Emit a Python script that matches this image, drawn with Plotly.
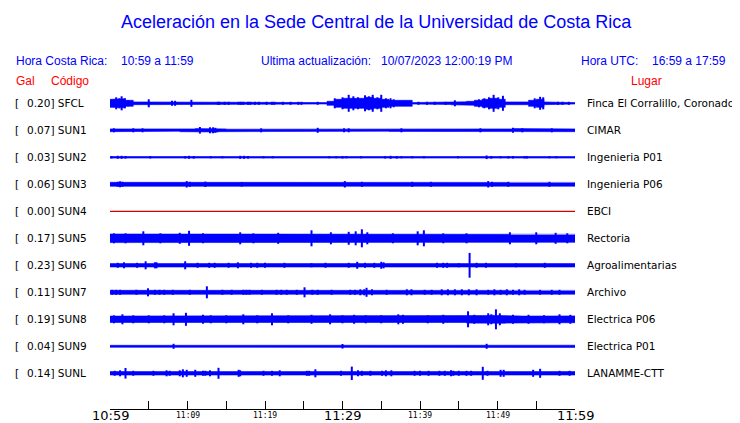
import plotly.graph_objects as go

# ---------------- data ----------------
STATIONS = ["SFCL", "SUN1", "SUN2", "SUN3", "SUN4", "SUN5", "SUN6", "SUN7", "SUN8", "SUN9", "SUNL"]
PEAK_GAL = ["0.20", "0.07", "0.03", "0.06", "0.00", "0.17", "0.23", "0.11", "0.19", "0.04", "0.14"]
PLACES = ["Finca El Corralillo, Coronado", "CIMAR", "Ingenieria P01", "Ingenieria P06", "EBCI",
          "Rectoria", "Agroalimentarias", "Archivo", "Electrica P06", "Electrica P01", "LANAMME-CTT"]

# minutes elapsed since 10:59 (local time)
MINUTE_EDGES = [0, 1, 2, 3, 4, 5, 6, 7, 8, 9, 10, 11, 12, 13, 14, 15, 16, 17, 18, 19, 20,
                21, 22, 23, 24, 25, 26, 27, 28, 29, 30, 31, 32, 33, 34, 35, 36, 37, 38, 39, 40,
                41, 42, 43, 44, 45, 46, 47, 48, 49, 50, 51, 52, 53, 54, 55, 56, 57, 58, 59, 60]
TICK_MARKS = [0, 5, 10, 15, 20, 25, 30, 35, 40, 45, 50, 55, 60]
TICK_MINUTES = [0, 10, 20, 30, 40, 50, 60]
TICK_LABELS = ["10:59", "11:09", "11:19", "11:29", "11:39", "11:49", "11:59"]
MAJOR_LABELS = ["10:59", "11:29", "11:59"]

# per-minute half-amplitude envelope of each trace (display amplitude units)
sfcl_env = [4.0, 4.5, 3.0, 1.4, 1.4, 1.4, 1.4, 1.4, 1.4, 1.4, 1.4, 1.4, 1.4, 0.7, 0.7, 0.7, 0.7, 0.7, 0.7, 0.7,
            0.7, 0.7, 0.7, 0.7, 0.7, 0.7, 0.7, 0.7, 2.0, 4.0, 5.0, 5.0, 5.0, 6.0, 5.0, 4.0, 3.0, 3.0, 3.0, 0.8,
            0.8, 0.8, 0.8, 1.2, 1.5, 1.5, 2.0, 3.0, 4.0, 5.0, 4.0, 1.4, 1.4, 1.4, 3.0, 4.0, 1.4, 0.7, 0.7, 0.7]
sun1_env = [1.4, 1.4, 1.1, 1.4, 1.4, 1.1, 1.1, 1.1, 0.9, 1.4, 1.4, 1.7, 1.9, 1.7, 1.4, 1.1, 1.1, 1.1, 1.1, 1.4,
            1.4, 1.1, 1.1, 1.1, 1.1, 1.4, 1.4, 1.1, 1.1, 1.4, 1.1, 0.9, 0.9, 1.1, 1.1, 0.9, 1.1, 1.1, 1.1, 1.4,
            1.1, 1.1, 1.1, 1.4, 1.4, 1.4, 1.4, 1.1, 1.4, 1.4, 1.4, 1.4, 1.7, 1.4, 1.1, 1.4, 1.1, 1.1, 1.4, 1.4]
sun2_env = [0.8, 0.8, 0.8, 0.8, 0.8, 0.8, 0.8, 0.8, 0.8, 0.8, 0.8, 0.8, 0.8, 0.8, 0.8, 0.8, 0.8, 0.8, 0.8, 0.8,
            0.8, 0.8, 0.8, 0.8, 0.8, 0.8, 0.8, 0.8, 0.8, 0.8, 0.8, 0.8, 0.8, 0.8, 0.8, 0.8, 0.8, 0.8, 0.8, 0.8,
            0.8, 0.8, 0.8, 0.8, 0.8, 0.8, 0.8, 0.8, 0.8, 0.8, 0.8, 0.8, 0.8, 0.8, 0.8, 0.8, 0.8, 0.8, 0.8, 0.8]
sun3_env = [2.0, 2.1, 2.0, 1.9, 1.9, 1.9, 2.0, 1.9, 1.9, 2.0, 2.1, 1.9, 1.9, 1.9, 1.9, 1.9, 1.9, 2.0, 1.9, 1.9,
            1.9, 1.9, 1.9, 1.9, 1.9, 1.9, 1.9, 1.9, 1.9, 1.9, 2.0, 1.9, 1.9, 1.9, 1.9, 1.9, 1.9, 1.9, 1.9, 1.9,
            1.9, 1.9, 1.9, 1.9, 1.9, 1.9, 1.9, 1.9, 2.0, 1.9, 1.9, 2.0, 1.9, 1.9, 1.9, 1.9, 2.0, 1.9, 1.9, 1.9]
sun4_env = [0, 0, 0, 0, 0, 0, 0, 0, 0, 0, 0, 0, 0, 0, 0, 0, 0, 0, 0, 0,
            0, 0, 0, 0, 0, 0, 0, 0, 0, 0, 0, 0, 0, 0, 0, 0, 0, 0, 0, 0,
            0, 0, 0, 0, 0, 0, 0, 0, 0, 0, 0, 0, 0, 0, 0, 0, 0, 0, 0, 0]
sun5_env = [4.3, 4.3, 4.5, 4.3, 4.3, 4.0, 4.3, 4.3, 4.4, 4.3, 4.3, 4.3, 4.0, 4.3, 4.3, 4.4, 4.3, 4.3, 4.0, 4.3,
            4.3, 4.3, 4.3, 4.4, 4.3, 4.5, 4.3, 4.3, 4.3, 4.4, 4.5, 4.7, 4.7, 4.5, 4.3, 4.3, 4.3, 4.0, 4.3, 4.3,
            4.4, 4.3, 4.0, 4.3, 4.3, 4.0, 4.3, 4.3, 4.3, 4.0, 4.3, 4.4, 4.3, 4.3, 4.3, 4.3, 4.4, 4.3, 4.3, 4.0]
sun6_env = [1.7, 1.7, 1.7, 1.7, 1.7, 1.7, 1.7, 1.7, 1.7, 1.7, 1.7, 1.7, 1.7, 1.7, 1.7, 1.7, 1.7, 1.7, 1.7, 1.7,
            1.7, 1.7, 1.7, 1.7, 1.7, 1.7, 1.7, 1.7, 1.7, 1.7, 1.7, 1.7, 1.7, 1.7, 1.7, 1.7, 1.7, 1.7, 1.7, 1.7,
            1.7, 1.7, 1.7, 1.7, 1.7, 1.7, 1.7, 1.7, 1.7, 1.7, 1.7, 1.7, 1.7, 1.7, 1.7, 1.7, 1.7, 1.7, 1.7, 1.7]
sun7_env = [2.0, 2.0, 1.9, 1.9, 1.9, 1.9, 2.0, 1.9, 1.9, 1.9, 1.9, 1.9, 1.9, 1.9, 1.9, 1.9, 1.9, 2.0, 1.9, 1.9,
            1.9, 2.0, 2.0, 1.9, 1.9, 1.9, 2.0, 1.9, 1.9, 1.9, 1.9, 2.0, 2.2, 2.2, 1.9, 1.9, 1.9, 1.9, 2.0, 1.9,
            2.0, 1.9, 2.0, 2.0, 2.0, 2.0, 2.0, 2.0, 2.0, 2.2, 2.2, 2.2, 2.0, 2.0, 1.9, 1.9, 1.9, 1.9, 1.9, 1.9]
sun8_env = [3.2, 3.2, 3.4, 3.2, 3.2, 3.2, 3.2, 3.2, 3.4, 3.4, 3.2, 3.2, 3.2, 3.2, 3.2, 3.2, 3.2, 3.4, 3.2, 3.2,
            3.4, 3.2, 3.2, 3.2, 3.2, 3.2, 3.2, 3.2, 3.2, 3.2, 3.2, 3.2, 3.2, 3.2, 3.2, 3.2, 3.2, 3.4, 3.2, 3.2,
            3.2, 3.2, 3.2, 3.2, 3.2, 3.2, 3.8, 3.8, 3.8, 4.0, 4.0, 3.8, 3.4, 3.2, 3.2, 3.2, 3.2, 3.2, 3.4, 3.4]
sun9_env = [1.0, 1.1, 1.0, 0.9, 1.0, 1.0, 0.9, 0.8, 0.8, 1.0, 1.1, 1.1, 1.1, 1.0, 1.2, 1.2, 1.1, 1.0, 1.0, 1.1,
            1.1, 1.0, 1.0, 1.1, 1.1, 1.0, 1.1, 1.1, 1.0, 1.1, 1.0, 1.0, 1.0, 1.1, 1.2, 1.2, 1.1, 1.1, 1.0, 1.1,
            1.1, 1.1, 1.0, 1.1, 1.1, 1.1, 1.1, 1.1, 1.2, 1.2, 1.1, 1.1, 1.1, 1.0, 1.1, 1.1, 1.1, 1.1, 1.1, 1.1]
sunl_env = [1.7, 1.7, 1.7, 1.7, 1.7, 1.7, 1.7, 1.7, 1.7, 1.7, 1.7, 1.7, 1.7, 1.7, 1.7, 1.7, 1.7, 1.7, 1.7, 1.7,
            1.7, 1.7, 1.7, 1.7, 1.7, 1.7, 1.7, 1.7, 1.7, 1.7, 1.7, 1.7, 1.7, 1.7, 1.7, 1.7, 1.7, 1.7, 1.7, 1.7,
            1.7, 1.7, 1.7, 1.7, 1.7, 1.7, 1.7, 1.7, 1.7, 1.7, 1.7, 1.7, 1.7, 1.7, 1.7, 1.7, 1.7, 1.7, 1.7, 1.7]

# short bursts / peaks: (minute, half-amplitude)
sfcl_peaks = [(0.3, 3), (0.8, 6), (1.2, 5), (1.5, 7), (1.9, 5), (2.3, 3), (5.0, 4), (8.0, 2.5), (8.4, 2.5),
              (10.5, 3.5), (13.9, 1.5), (14.1, 1.5), (14.8, 1.5), (15.3, 1.5), (16.6, 1.5), (16.9, 1.5),
              (17.2, 1.5), (17.8, 1.5), (18.1, 1.5), (18.7, 1.5), (19.2, 1.5), (20.2, 1.5), (20.9, 1.5),
              (21.2, 1.5), (22.3, 1.5), (23.3, 1.5), (24.3, 1.5), (24.7, 1.5), (26.8, 1.5), (29.0, 5),
              (30.0, 6), (30.8, 8.5), (31.4, 7), (32.0, 6), (32.9, 8), (33.4, 7), (33.9, 8.5), (34.5, 6),
              (35.0, 8.5), (35.6, 5), (36.2, 5), (36.6, 4), (39.8, 1.5), (40.9, 1.5), (41.9, 1.5), (43.3, 1.5),
              (44.5, 3), (47.6, 4), (48.3, 5), (48.9, 6), (49.5, 8.5), (50.1, 6), (50.7, 7.5), (54.8, 5),
              (55.5, 6.5), (55.9, 6), (57.8, 1.5), (58.4, 1.5), (59.2, 1.5)]
sun1_peaks = [(0.5, 2), (3.0, 2), (4.2, 2), (11.6, 3.3), (12.9, 3), (13.3, 3), (13.6, 2.5), (19.5, 2),
              (26.8, 2.5), (30.2, 2), (30.8, 2), (37.6, 2), (47.8, 2), (52.0, 2.5), (53.2, 2), (57.0, 2)]
sun2_peaks = [(0.2, 1.2), (1.0, 1.5), (1.5, 1.5), (2.0, 1.3), (5.2, 1.2), (9.7, 1.2), (10.2, 1.5), (10.8, 1.3),
              (13.0, 1), (14.5, 1), (16.8, 1.5), (17.3, 1.5), (17.8, 1.3), (19.8, 1), (21.0, 1), (28.3, 1),
              (29.2, 1), (30.0, 1.2), (30.5, 1), (32.4, 1), (35.5, 1.2), (36.2, 1.5), (37.0, 1.3), (37.6, 1),
              (39.0, 1), (40.5, 1), (44.9, 1), (48.6, 1.8), (49.2, 1.3), (50.4, 1), (51.4, 1.2), (52.0, 1.3),
              (53.5, 1.2), (53.8, 1.2), (56.7, 1), (57.6, 1)]
sun3_peaks = [(1.0, 2.5), (1.3, 3), (1.6, 2.5), (9.9, 3.2), (10.3, 2.5), (12.3, 2.7), (17.0, 2.3), (30.3, 3.2),
              (32.5, 2.5), (39.0, 2.5), (41.4, 2.5), (48.8, 3.2), (49.3, 2.5), (51.4, 2.5), (56.7, 2.5)]
sun4_peaks = []
sun5_peaks = [(0.5, 5), (2.0, 5), (4.3, 7), (6.5, 5), (9.0, 5.5), (10.2, 7.5), (12.0, 5), (16.8, 6), (18.5, 5),
              (21.7, 5.5), (26.0, 8), (28.5, 6), (30.8, 6.5), (31.7, 7), (32.5, 9), (33.2, 6), (36.5, 5),
              (39.7, 7), (40.5, 8), (43.0, 5), (46.0, 5), (51.6, 6), (55.0, 6), (57.5, 5.5), (59.0, 5)]
sun6_peaks = [(1.0, 2.5), (1.8, 3), (3.5, 2.5), (4.6, 4), (5.8, 3), (6.0, 3), (9.7, 4), (11.3, 2.5), (12.8, 2.5),
              (13.5, 2.5), (15.3, 2.5), (16.5, 3), (18.2, 2.5), (19.0, 2.5), (20.0, 2.5), (22.5, 2.5), (26.0, 2),
              (27.8, 2.5), (30.8, 2.5), (31.9, 3.5), (32.9, 2.5), (34.1, 2.5), (35.0, 3.5), (35.3, 3),
              (42.2, 2.5), (43.0, 2.5), (43.5, 2.5), (45.0, 2), (46.4, 12.4), (47.3, 2.5), (48.5, 2.5),
              (52.4, 2), (56.1, 2.5)]
sun7_peaks = [(0.3, 2.5), (0.8, 2.5), (1.3, 2.5), (3.4, 2.5), (4.9, 4), (5.8, 2.5), (6.4, 2.5), (7.0, 2.5),
              (8.1, 2.5), (10.3, 2.5), (12.5, 6), (14.5, 2.5), (15.7, 2.5), (17.2, 2.5), (17.6, 2.5), (18.0, 2.5),
              (19.6, 2.5), (21.5, 2.5), (22.1, 2.5), (22.8, 2.5), (24.1, 2.5), (25.1, 5), (26.1, 2.5),
              (26.8, 2.5), (28.6, 2.5), (31.0, 2.5), (31.6, 2.5), (32.3, 3), (32.8, 3), (33.1, 4.5), (33.8, 3),
              (35.7, 2.5), (38.3, 3), (38.9, 3), (40.6, 2.5), (41.5, 2.5), (42.8, 3), (43.6, 3), (44.5, 3),
              (45.4, 3), (46.3, 3), (47.3, 3), (48.8, 2.5), (49.6, 3), (50.4, 2.5), (51.2, 3), (52.0, 2.5),
              (52.8, 3), (53.5, 2.5), (55.5, 2.5), (57.0, 2.5), (58.0, 2.5)]
sun8_peaks = [(0.5, 4), (1.6, 5), (3.0, 4), (5.0, 4), (7.0, 4), (8.2, 6), (9.8, 6.5), (12.0, 4.5), (13.0, 4),
              (15.0, 4), (17.2, 5), (19.0, 4), (20.9, 6), (23.0, 4), (26.0, 4.5), (28.4, 5), (30.0, 4),
              (31.5, 4.5), (33.0, 4), (35.0, 4), (37.2, 5), (37.8, 4.5), (41.0, 4), (43.0, 4.5), (46.2, 8),
              (47.0, 4.5), (48.8, 6), (49.2, 5), (49.8, 10), (50.3, 6), (52.0, 4.5), (54.0, 4.5), (56.0, 4),
              (58.0, 5), (59.4, 4.5)]
sun9_peaks = [(8.2, 2.5), (30.0, 2.3), (48.6, 2.5)]
sunl_peaks = [(0.6, 2.5), (1.3, 3), (2.0, 5.3), (3.0, 2.5), (5.6, 2.5), (7.3, 3), (7.7, 2.5), (9.0, 3), (9.4, 4),
              (9.9, 3.5), (11.0, 3.5), (12.0, 2.5), (12.3, 2.5), (12.9, 3), (14.0, 5.5), (16.6, 3.5), (16.8, 3),
              (19.8, 2.5), (20.9, 2.5), (21.9, 3), (25.4, 2.5), (25.7, 2.5), (26.5, 4), (29.8, 2.5), (31.2, 6.7),
              (32.0, 3), (32.5, 2.5), (33.6, 2.5), (35.1, 2.5), (35.6, 3), (36.3, 3), (39.3, 2.5), (40.0, 2.5),
              (41.1, 2.5), (42.5, 2.5), (43.2, 2.5), (44.0, 3), (44.3, 2.5), (45.0, 2.5), (46.0, 2.5),
              (46.6, 2.5), (48.1, 6.5), (48.7, 2.5), (50.4, 3.5), (50.8, 3.5), (54.6, 3.5), (55.5, 4.5),
              (58.0, 2.5), (59.3, 2.5)]

ENVELOPES = [sfcl_env, sun1_env, sun2_env, sun3_env, sun4_env, sun5_env, sun6_env, sun7_env,
             sun8_env, sun9_env, sunl_env]
PEAKS = [sfcl_peaks, sun1_peaks, sun2_peaks, sun3_peaks, sun4_peaks, sun5_peaks, sun6_peaks, sun7_peaks,
         sun8_peaks, sun9_peaks, sunl_peaks]

# ---------------- layout constants ----------------
PAGE_MARGIN = 8                            # default body margin of the html page
W, H = 740 - PAGE_MARGIN, 423 - PAGE_MARGIN
# plot area, in window pixels
PL, PR, PT, PB = 110, 575, 88, 409
ROW_GAP = 27.0                             # vertical spacing between traces (y units)
FIRST_ROW_OFFSET = 15.3                    # y units from plot top to first trace
BLUE = "#0000ff"
RED = "#ff0000"


def px_x(px):
    return (px - PL) / (PR - PL)


def px_y(py):
    return (PB - py) / (PB - PT)


fig = go.Figure()

for i, (name, env, peaks) in enumerate(zip(STATIONS, ENVELOPES, PEAKS)):
    c = -ROW_GAP * i
    if max(env) == 0 and not peaks:
        fig.add_trace(go.Scatter(x=[MINUTE_EDGES[0], MINUTE_EDGES[-1]], y=[c, c], mode="lines",
                                 line=dict(color="#d40000", width=1.2), hoverinfo="skip", showlegend=False))
        continue
    xs, ys = [], []
    for k, a in enumerate(env):
        xs += [MINUTE_EDGES[k], MINUTE_EDGES[k + 1]]
        ys += [c + a, c + a]
    for k in range(len(env) - 1, -1, -1):
        xs += [MINUTE_EDGES[k + 1], MINUTE_EDGES[k]]
        ys += [c - env[k], c - env[k]]
    fig.add_trace(go.Scatter(x=xs, y=ys, mode="lines", fill="toself", fillcolor=BLUE,
                             line=dict(color=BLUE, width=0.6), hoverinfo="skip", showlegend=False))
    if peaks:
        px_, py_ = [], []
        for t, a in peaks:
            px_ += [t, t, None]
            py_ += [c - a, c + a, None]
        fig.add_trace(go.Scatter(x=px_, y=py_, mode="lines", line=dict(color=BLUE, width=2),
                                 hoverinfo="skip", showlegend=False, connectgaps=False))

ann = []
ann.append(dict(text="Aceleración en la Sede Central de la Universidad de Costa Rica",
                x=px_x(376), y=px_y(22), xanchor="center", yanchor="middle",
                font=dict(family="Liberation Sans, Arial", size=18, color=BLUE)))
for txt, xpx in [("Hora Costa Rica:", 14), ("10:59 a 11:59", 119), ("Ultima actualización:", 259),
                 ("10/07/2023 12:00:19 PM", 379), ("Hora UTC:", 579), ("16:59 a 17:59", 650)]:
    ann.append(dict(text=txt, x=px_x(xpx), y=px_y(61), xanchor="left", yanchor="middle",
                    font=dict(family="Liberation Sans, Arial", size=12, color=BLUE)))
for txt, xpx in [("Gal", 14), ("Código", 49), ("Lugar", 629)]:
    ann.append(dict(text=txt, x=px_x(xpx), y=px_y(81), xanchor="left", yanchor="middle",
                    font=dict(family="Liberation Sans, Arial", size=12, color=RED)))

for i, (name, gal, place) in enumerate(zip(STATIONS, PEAK_GAL, PLACES)):
    c = -ROW_GAP * i
    lf = dict(family="DejaVu Sans", size=10.5, color="#000000")
    ann.append(dict(text="[", x=px_x(13), y=c, yref="y", xanchor="left", yanchor="middle", font=lf))
    ann.append(dict(text=f"{gal}] {name}", x=px_x(25), y=c, yref="y", xanchor="left",
                    yanchor="middle", font=lf))
    ann.append(dict(text=place, x=px_x(585), y=c, yref="y", xanchor="left", yanchor="middle", font=lf))

for m, lab in zip(TICK_MINUTES, TICK_LABELS):
    if lab in MAJOR_LABELS:
        f = dict(family="DejaVu Sans", size=13, color="#000000")
        yy = px_y(416)
    else:
        f = dict(family="DejaVu Sans Mono", size=8, color="#000000")
        yy = px_y(415)
    ann.append(dict(text=lab, x=m, xref="x", y=yy, yref="paper", xanchor="center", yanchor="middle", font=f))

for a in ann:
    a.setdefault("xref", "paper")
    a.setdefault("yref", "paper")
    a["showarrow"] = False

fig.update_layout(
    width=W, height=H, autosize=False,
    margin=dict(l=PL - PAGE_MARGIN, r=740 - PR, t=PT - PAGE_MARGIN, b=423 - PB, pad=0),
    paper_bgcolor="white", plot_bgcolor="white",
    annotations=ann,
    xaxis=dict(range=[MINUTE_EDGES[0], MINUTE_EDGES[-1]], showgrid=False, zeroline=False,
               showline=True, linecolor="#000000", linewidth=1,
               ticks="inside", ticklen=8, tickwidth=1, tickcolor="#000000",
               tickmode="array", tickvals=TICK_MARKS, showticklabels=False, fixedrange=True),
    yaxis=dict(range=[-(PB - PT) + FIRST_ROW_OFFSET, FIRST_ROW_OFFSET], showgrid=False, zeroline=False,
               showline=False, showticklabels=False, ticks="", fixedrange=True),
    showlegend=False,
)

fig.write_html("out.html", config={"displayModeBar": False})
